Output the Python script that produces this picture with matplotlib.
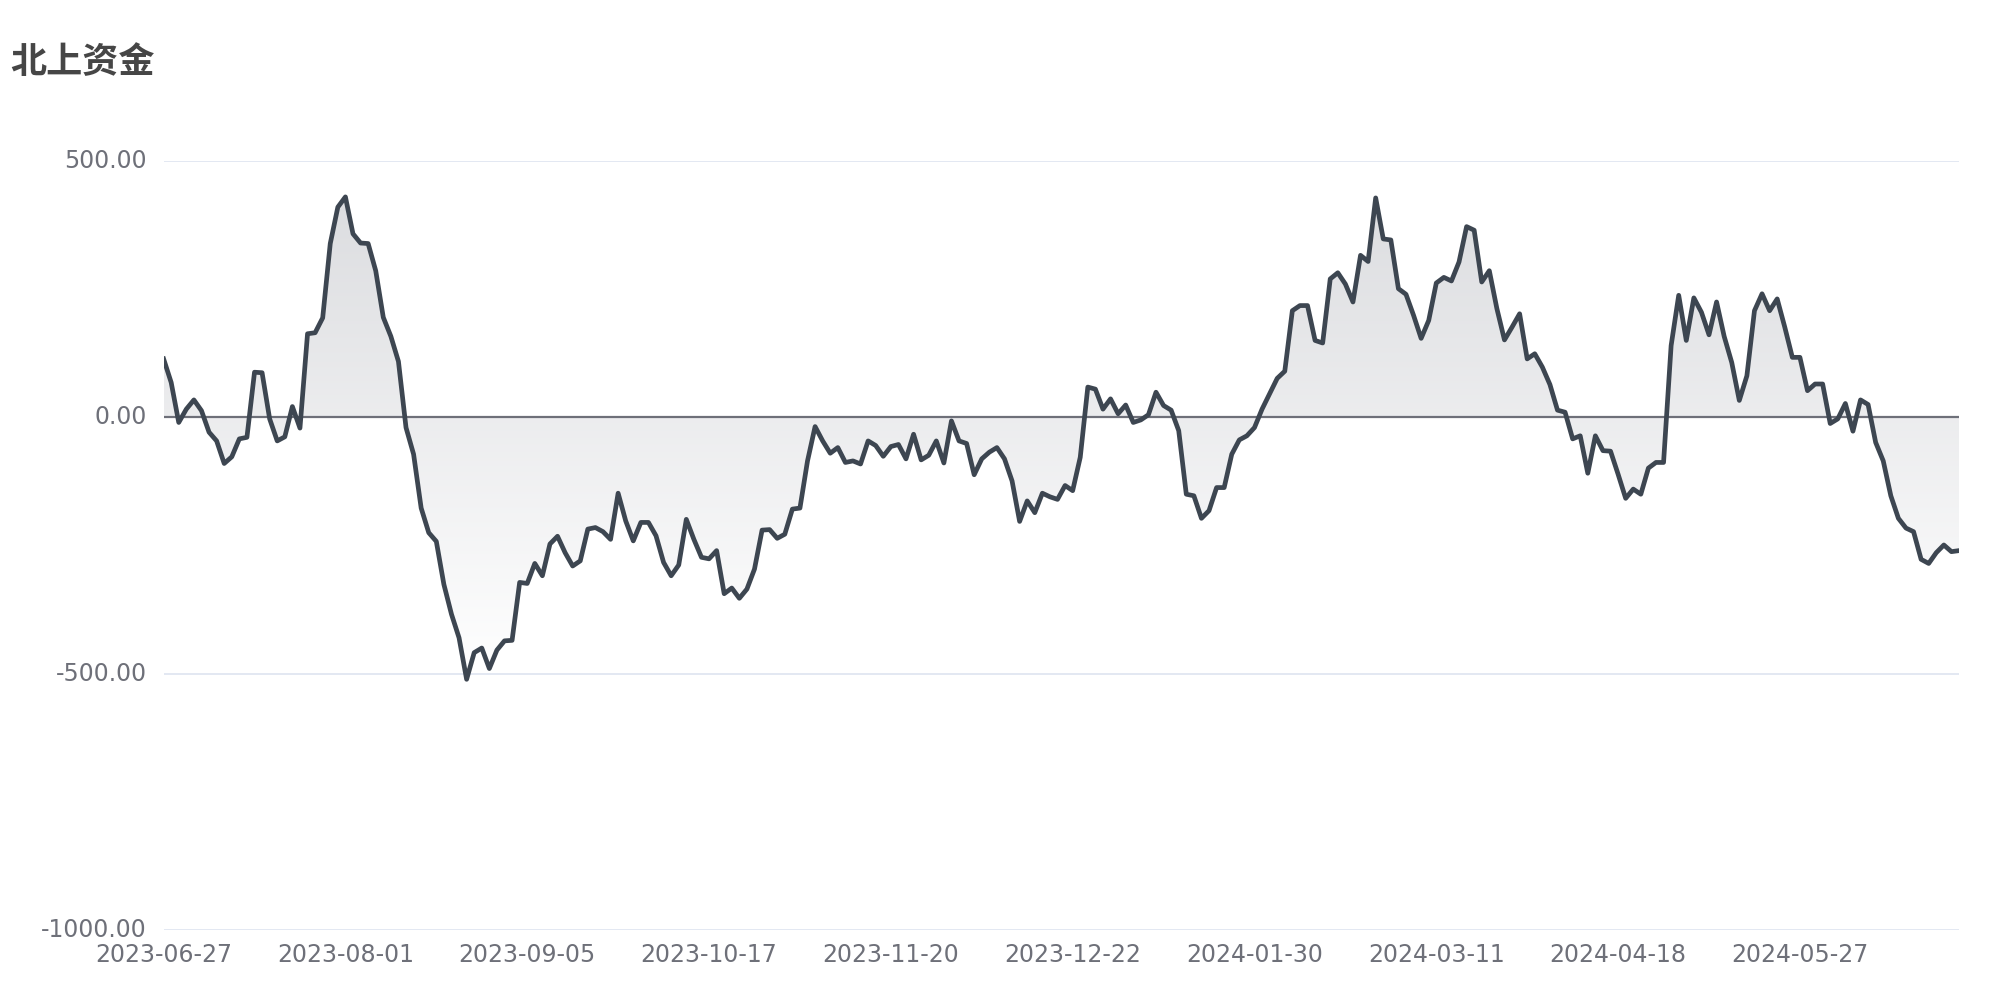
import numpy as np
import matplotlib
matplotlib.use("Agg")
import matplotlib.pyplot as plt
import matplotlib.transforms as mtransforms
from matplotlib.colors import LinearSegmentedColormap

# northbound net flow, one value per trading day
flow = [
    114, 68, -10, 16, 34, 13, -29, -46, -90, -77,
    -42, -39, 88, 87, -3, -46, -38, 21, -21, 163,
    165, 194, 339, 410, 430, 358, 340, 339, 286, 195,
    158, 109, -20, -72, -177, -225, -242, -326, -384, -430,
    -511, -459, -450, -490, -454, -436, -435, -322, -324, -285,
    -309, -247, -232, -264, -290, -280, -218, -215,
    -223, -238, -148, -202, -241, -205, -205, -231, -283, -309,
    -288, -199, -238, -273, -276, -260, -344, -333, -353, -335,
    -296, -220, -219, -236, -228, -179, -177, -85, -18, -46,
    -70, -59, -88, -85, -91, -46, -55, -76, -57, -53,
    -81, -33, -83, -74, -46, -89, -7,
    -46, -51, -112, -81, -68, -59, -81, -124, -203, -163,
    -186, -148, -155, -160, -133, -143, -78, 59, 55, 16,
    36, 7, 24, -10, -5, 5, 49, 23, 14, -26,
    -150, -153, -197, -182, -137, -137, -72,
    -44, -36, -20, 16, 46, 76, 90, 208, 218, 218,
    150, 145, 270, 282, 260, 225, 316, 304, 428, 348,
    346, 251, 240, 199, 154, 189, 262, 273, 266, 303,
    372, 365, 264, 286, 212, 151, 176, 202, 114, 124,
    98, 64, 14, 10, -42, -36, -109, -36,
    -65, -66, -111, -158, -140, -150, -99, -88, -88, 140,
    238, 150, 233, 205, 161, 225, 158, 107, 33, 81,
    208, 241, 208, 231, 176, 117, 117, 52, 65, 65,
    -12, -3, 27, -27, 34, 25, -49, -85, -153, -197,
    -216, -223, -277, -285, -264, -249, -262, -260,
]

date_labels = ['2023-06-27', '2023-08-01', '2023-09-05', '2023-10-17', '2023-11-20',
               '2023-12-22', '2024-01-30', '2024-03-11', '2024-04-18', '2024-05-27']
label_step = 24
y_ticks = [-1000, -500, 0, 500]

x = np.arange(len(flow))
vals = np.array(flow, dtype=float)

fig = plt.figure(figsize=(20, 10), dpi=100)
ax = fig.add_axes([0.0818, 0.070, 0.8977, 0.769])

# gradient area between the line and zero
poly = ax.fill_between(x, vals, 0, color='none', lw=0)
cmap = LinearSegmentedColormap.from_list('fade', ['#ffffff', '#dcdde0'])
grad = np.linspace(0, 1, 256).reshape(-1, 1)
img = ax.imshow(grad, extent=[x[0], x[-1], vals.min(), vals.max()], origin='lower',
                aspect='auto', cmap=cmap, zorder=1, interpolation='bicubic')
img.set_clip_path(poly.get_paths()[0], transform=ax.transData)

ax.axhline(0, color='#6e7079', lw=1.6, zorder=2)
ax.plot(x, vals, color='#3d4651', lw=3.4, zorder=3, solid_joinstyle='round')

ax.set_xlim(0, len(flow) - 1)
ax.set_ylim(-1000, 500)
ax.set_yticks(y_ticks)
ax.set_yticklabels([f'{v:.2f}' for v in y_ticks])
ax.set_xticks(x[::label_step][:len(date_labels)])
ax.set_xticklabels(date_labels)
ax.yaxis.grid(True, color='#e0e6f1', lw=1.3)
ax.set_axisbelow(True)
for s in ax.spines.values():
    s.set_visible(False)
ax.tick_params(axis='both', length=0, labelcolor='#6e7079', labelsize=17)
ax.tick_params(axis='y', pad=12)
ax.tick_params(axis='x', pad=9)

# nudge the value labels up a little
shift = mtransforms.ScaledTranslation(0, 2.5 / 100, fig.dpi_scale_trans)
for lbl in ax.get_yticklabels():
    lbl.set_transform(lbl.get_transform() + shift)

fig.text(0.005, 0.9375, '北上资金', fontsize=26, fontweight='bold', color='#464646',
         va='center', ha='left', family=['Noto Sans CJK SC', 'DejaVu Sans'])

fig.savefig('out.png', dpi=100, facecolor='white')
